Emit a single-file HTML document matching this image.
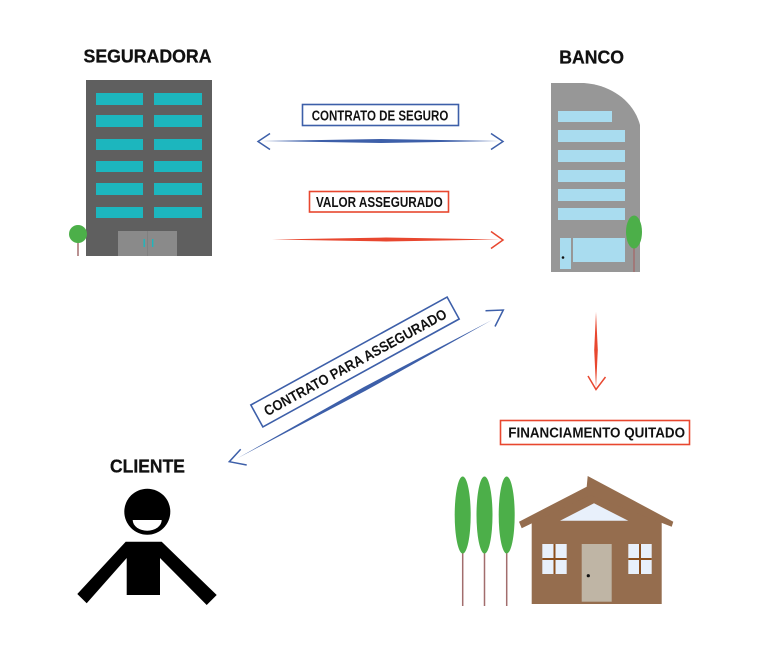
<!DOCTYPE html>
<html><head><meta charset="utf-8"><style>
html,body{margin:0;padding:0;background:#fff;}
svg{display:block;}
text{font-family:"Liberation Sans",sans-serif;font-weight:bold;fill:#111;}
</style></head><body>
<svg width="768" height="668" viewBox="0 0 768 668" xmlns="http://www.w3.org/2000/svg">
<rect width="768" height="668" fill="#fff"/>
<!-- titles -->
<text x="83.5" y="62.7" font-size="18" textLength="128" lengthAdjust="spacingAndGlyphs" stroke="#111" stroke-width="0.3">SEGURADORA</text>
<text x="559.3" y="63.3" font-size="18" textLength="64.7" lengthAdjust="spacingAndGlyphs" stroke="#111" stroke-width="0.3">BANCO</text>
<text x="110" y="472.3" font-size="18" textLength="75" lengthAdjust="spacingAndGlyphs" stroke="#111" stroke-width="0.3">CLIENTE</text>

<!-- Seguradora building -->
<rect x="86" y="80" width="126" height="176" fill="#5f5f5f"/>
<g fill="#1cb6be">
<rect x="96" y="93" width="47" height="12"/><rect x="154" y="93" width="48" height="12"/>
<rect x="96" y="115" width="47" height="12"/><rect x="154" y="115" width="48" height="12"/>
<rect x="96" y="139" width="47" height="11"/><rect x="154" y="139" width="48" height="11"/>
<rect x="96" y="161" width="47" height="11"/><rect x="154" y="161" width="48" height="11"/>
<rect x="96" y="183" width="47" height="12"/><rect x="154" y="183" width="48" height="12"/>
<rect x="96" y="207" width="47" height="11"/><rect x="154" y="207" width="48" height="11"/>
</g>
<rect x="118" y="231" width="59" height="25" fill="#8a8a8a"/>
<line x1="147.5" y1="231" x2="147.5" y2="256" stroke="#7d7d7d" stroke-width="0.8"/>
<rect x="143.5" y="239" width="1.4" height="8" fill="#1cb6be"/>
<rect x="152" y="239" width="1.4" height="8" fill="#1cb6be"/>
<line x1="78" y1="238" x2="78" y2="256" stroke="#a26d6d" stroke-width="1.5"/>
<circle cx="78" cy="234" r="9" fill="#4caf49"/>

<!-- Banco building -->
<path d="M551,83 H584 C612,85 634,102 640,125 V272 H551 Z" fill="#979797"/>
<g fill="#a9dcef">
<rect x="558" y="111" width="54" height="11"/>
<rect x="558" y="130" width="67" height="12"/>
<rect x="558" y="150" width="67" height="12"/>
<rect x="558" y="170" width="67" height="12"/>
<rect x="558" y="189" width="67" height="12"/>
<rect x="558" y="208" width="67" height="12"/>
<rect x="560" y="238" width="11" height="31"/>
<rect x="573" y="238" width="52" height="24"/>
</g>
<circle cx="563" cy="257.5" r="1.3" fill="#111"/>
<line x1="634" y1="245" x2="634" y2="272" stroke="#a26d6d" stroke-width="1.5"/>
<ellipse cx="634" cy="232" rx="8" ry="16.5" fill="#4caf49"/>

<!-- Contrato de seguro -->
<rect x="302.5" y="104.5" width="156" height="21" fill="#fff" stroke="#3d5fa9" stroke-width="1.6"/>
<text x="311.7" y="120.7" font-size="14.5" textLength="136.6" lengthAdjust="spacingAndGlyphs">CONTRATO DE SEGURO</text>
<polygon points="262,141 381,139 500,141 381,143" fill="#3d5fa9"/>
<polyline points="270,133.5 258,141.5 270,149.5" fill="none" stroke="#3d5fa9" stroke-width="1.5"/>
<polyline points="491,133.5 503,141.5 491,149.5" fill="none" stroke="#3d5fa9" stroke-width="1.5"/>

<!-- Valor assegurado -->
<rect x="309.5" y="191.5" width="139" height="20.5" fill="#fff" stroke="#e8472f" stroke-width="1.6"/>
<text x="316" y="206.9" font-size="14.5" textLength="126.7" lengthAdjust="spacingAndGlyphs">VALOR ASSEGURADO</text>
<polygon points="272,239.5 386,237.5 500,239.5 386,241.5" fill="#e8472f"/>
<polyline points="491,231.5 503,240 491,248.5" fill="none" stroke="#e8472f" stroke-width="1.5"/>

<!-- Diagonal contrato para assegurado -->
<polygon points="237,458.5 365.5,390.8 492,320 363.5,387.2" fill="#3d5fa9"/>
<polyline points="485.5,310.7 503.3,310 495,326.5" fill="none" stroke="#3d5fa9" stroke-width="1.5"/>
<polyline points="240.7,449.3 229.3,461.7 246.7,465" fill="none" stroke="#3d5fa9" stroke-width="1.5"/>
<g transform="translate(355,362) rotate(-28.8)">
<rect x="-112" y="-12.5" width="224" height="25" fill="#fff" stroke="#3d5fa9" stroke-width="1.6"/>
<text x="0" y="5.4" font-size="14.5" text-anchor="middle" textLength="206" lengthAdjust="spacingAndGlyphs">CONTRATO PARA ASSEGURADO</text>
</g>

<!-- Red vertical arrow -->
<polygon points="596,312 597.8,350 596,388 594.2,350" fill="#e8472f"/>
<polyline points="588,376 596,389.5 605.5,377" fill="none" stroke="#e8472f" stroke-width="1.5"/>

<!-- Financiamento quitado -->
<rect x="500.5" y="420.5" width="189" height="24" fill="#fff" stroke="#e8472f" stroke-width="1.6"/>
<text x="508.3" y="437.5" font-size="14.5" textLength="176.7" lengthAdjust="spacingAndGlyphs">FINANCIAMENTO QUITADO</text>

<!-- Trees -->
<g stroke="#a26d6d" stroke-width="1.5">
<line x1="462.7" y1="540" x2="462.7" y2="606"/>
<line x1="484.5" y1="540" x2="484.5" y2="606"/>
<line x1="506.7" y1="540" x2="506.7" y2="606"/>
</g>
<g fill="#4caf49">
<ellipse cx="462.7" cy="515" rx="8" ry="38.5"/>
<ellipse cx="484.5" cy="515" rx="8" ry="38.5"/>
<ellipse cx="506.7" cy="515" rx="8" ry="38.5"/>
</g>

<!-- House -->
<polygon points="531.7,520 590,492 661.7,520 661.7,604 531.7,604" fill="#956d4e"/>
<polygon points="519,521.7 586.7,486.7 587.7,476 673.3,521.7 671.7,526.7 590,495 521.7,528.3" fill="#956d4e"/>
<polygon points="560,520.7 594,503.3 628.3,520.7" fill="#e8f0fb"/>
<rect x="542.3" y="544" width="24.4" height="30" fill="#e8f0fb"/>
<rect x="628.3" y="544" width="23.4" height="30" fill="#e8f0fb"/>
<g fill="#8b4f1e">
<rect x="553.5" y="544" width="2" height="30"/><rect x="542.3" y="558" width="24.4" height="2"/>
<rect x="639" y="544" width="2" height="30"/><rect x="628.3" y="558" width="23.4" height="2"/>
</g>
<rect x="581.7" y="544" width="30" height="57.7" fill="#bfb5a5"/>
<circle cx="588.3" cy="575.7" r="1.6" fill="#111"/>

<!-- Cliente -->
<circle cx="147.3" cy="511.7" r="23" fill="#000"/>
<path d="M132.7,520 A14.5,10.7 0 0 0 161.7,520 Z" fill="#fff"/>
<polygon points="125.7,541.7 161.7,541.7 216.7,595 206.7,605 160,558 160,595 126.7,595 126.7,558 86.7,603.3 77.3,594" fill="#000"/>
</svg>
</body></html>
